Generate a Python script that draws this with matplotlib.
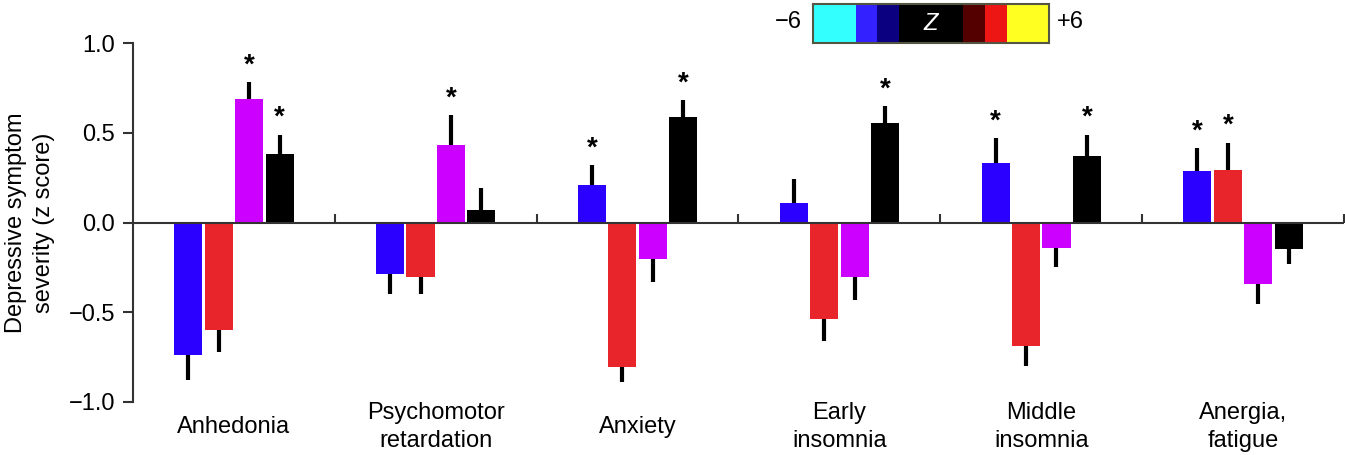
import numpy as np
import matplotlib
matplotlib.use("Agg")
from matplotlib import pyplot as plt
from matplotlib.colors import ListedColormap, BoundaryNorm
from matplotlib.transforms import blended_transform_factory

plt.rcParams['font.family'] = ['Liberation Sans', 'DejaVu Sans']

categories = ["Anhedonia", "Psychomotor\nretardation", "Anxiety",
              "Early\ninsomnia", "Middle\ninsomnia", "Anergia,\nfatigue"]

# four groups per symptom, colour coded like the paper
blue_vals = [-0.74, -0.285, 0.21, 0.11, 0.33, 0.285]
red_vals = [-0.60, -0.305, -0.805, -0.54, -0.69, 0.29]
magenta_vals = [0.69, 0.43, -0.205, -0.305, -0.14, -0.34]
black_vals = [0.38, 0.067, 0.59, 0.555, 0.37, -0.15]

blue_err = [0.14, 0.115, 0.11, 0.13, 0.14, 0.13]
red_err = [0.12, 0.095, 0.085, 0.12, 0.11, 0.155]
magenta_err = [0.09, 0.17, 0.125, 0.125, 0.11, 0.115]
black_err = [0.11, 0.123, 0.09, 0.095, 0.12, 0.08]

blue_sig = [0, 0, 1, 0, 1, 1]
red_sig = [0, 0, 0, 0, 0, 1]
magenta_sig = [1, 1, 0, 0, 0, 0]
black_sig = [1, 0, 1, 1, 1, 0]

# colour key at the top
z_bounds = [-6, -3.8, -2.75, -1.65, 1.65, 2.75, 3.85, 6]
z_colors = ["#33FFFF", "#3322FF", "#0A0080", "#000000", "#550000", "#EE1515", "#FFFF22"]

series = [
    (blue_vals, blue_err, blue_sig, "#2B00FF"),
    (red_vals, red_err, red_sig, "#E8252B"),
    (magenta_vals, magenta_err, magenta_sig, "#CC00FF"),
    (black_vals, black_err, black_sig, "#000000"),
]

W, H = 1345, 455
fig = plt.figure(figsize=(W / 100, H / 100), dpi=100)
ax = fig.add_axes([133 / W, 53 / H, 1211 / W, 359 / H])

x = np.arange(len(categories))
step = 0.151
width = 0.139
for i, (vals, err, sig, col) in enumerate(series):
    xs = x + (i - 1.5) * step
    vals = np.array(vals)
    err = np.array(err)
    lower = np.where(vals < 0, err, 0)
    upper = np.where(vals >= 0, err, 0)
    ax.errorbar(xs, vals, yerr=[lower, upper], fmt='none', ecolor='black',
                elinewidth=3, capsize=0, zorder=1, clip_on=False)
    ax.bar(xs, vals, width=width, color=col, zorder=2)
    for xi, v, e, s in zip(xs, vals, err, sig):
        if s:
            ax.text(xi, v + e + 0.02, "*", ha='center', va='bottom',
                    fontsize=20, fontweight='bold')

ax.axhline(0, color='#333333', lw=1.5, zorder=3)
ax.vlines(np.arange(len(categories)) + 0.5, 0, 0.045, color='#333333', lw=1.5,
          zorder=3, clip_on=False)

ax.set_xlim(-0.5, 5.5)
ax.set_ylim(-1.0, 1.0)
for s in ['top', 'right', 'bottom']:
    ax.spines[s].set_visible(False)
ax.spines['left'].set_color('#333333')
ax.spines['left'].set_linewidth(1.5)
ax.set_xticks([])
ax.set_yticks([-1.0, -0.5, 0.0, 0.5, 1.0])
ax.set_yticklabels(["\u22121.0", "\u22120.5", "0.0", "0.5", "1.0"])
ax.tick_params(axis='y', labelsize=17, length=7, width=1.5, color='#333333', pad=6)
ax.set_ylabel("Depressive symptom\nseverity (z score)", fontsize=17, labelpad=10,
              linespacing=1.3)

trans = blended_transform_factory(ax.transData, ax.transAxes)
for xi, lab in zip(x, categories):
    ax.text(xi, -0.07, lab, transform=trans, ha='center', va='center',
            fontsize=17, linespacing=1.35)

# colour key
cax = fig.add_axes([813 / W, (H - 43) / H, 236 / W, 39 / H])
cmap = ListedColormap(z_colors)
norm = BoundaryNorm(z_bounds, cmap.N)
mids = [(a + b) / 2 for a, b in zip(z_bounds[:-1], z_bounds[1:])]
cax.pcolormesh(z_bounds, [0, 1], np.array([mids]), cmap=cmap, norm=norm)
cax.set_xlim(-6, 6)
cax.set_ylim(0, 1)
cax.set_xticks([])
cax.set_yticks([])
for s in cax.spines.values():
    s.set_color('#555544')
    s.set_linewidth(1.5)
cax.text(0, 0.5, "Z", color='white', style='italic', ha='center', va='center', fontsize=17)
fig.text(788 / W, (H - 22) / H, "\u22126", ha='center', va='center', fontsize=17)
fig.text(1070 / W, (H - 22) / H, "+6", ha='center', va='center', fontsize=17)

fig.savefig("out.png", dpi=100)
